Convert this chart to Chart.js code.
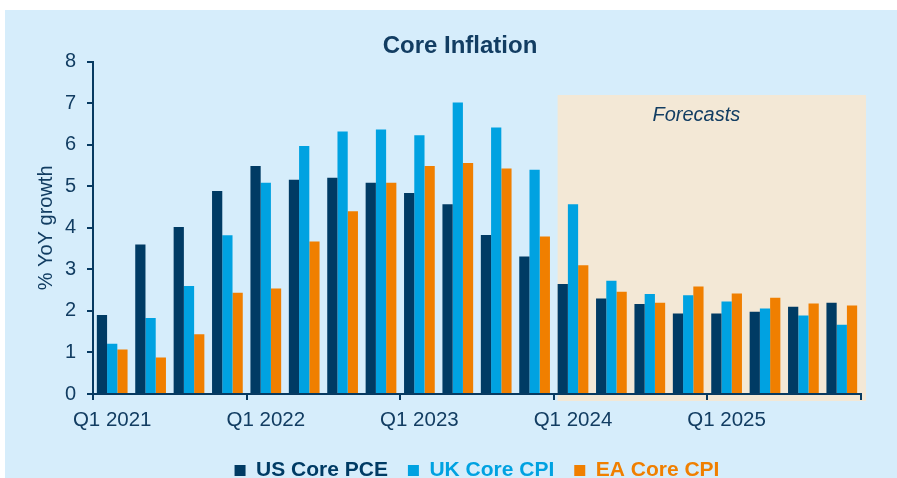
<!DOCTYPE html>
<html>
<head>
<meta charset="utf-8">
<script src="https://cdn.jsdelivr.net/npm/chart.js@4.4.1/dist/chart.umd.min.js"></script>
<style>
  body { margin: 0; background: #fff; }
  #wrap { position: absolute; left: 5px; top: 10px; width: 892px; height: 468px; background: #d6edfb; }
</style>
</head>
<body>
<div id="wrap"><canvas id="coreInflation" width="892" height="468"></canvas></div>
<script>
const quarters = ['Q1 2021', 'Q2 2021', 'Q3 2021', 'Q4 2021',
                  'Q1 2022', 'Q2 2022', 'Q3 2022', 'Q4 2022',
                  'Q1 2023', 'Q2 2023', 'Q3 2023', 'Q4 2023',
                  'Q1 2024', 'Q2 2024', 'Q3 2024', 'Q4 2024',
                  'Q1 2025', 'Q2 2025', 'Q3 2025', 'Q4 2025'];
const usCorePce = [1.9, 3.6, 4.02, 4.89, 5.49, 5.16, 5.21, 5.09, 4.84, 4.57, 3.83, 3.31, 2.65, 2.3, 2.17, 1.94, 1.94, 1.98, 2.1, 2.2];
const ukCoreCpi = [1.21, 1.83, 2.6, 3.82, 5.09, 5.97, 6.32, 6.37, 6.23, 7.02, 6.42, 5.4, 4.57, 2.73, 2.41, 2.38, 2.23, 2.06, 1.89, 1.67];
const eaCoreCpi = [1.07, 0.88, 1.44, 2.44, 2.54, 3.67, 4.4, 5.09, 5.49, 5.56, 5.43, 3.79, 3.1, 2.46, 2.2, 2.59, 2.42, 2.32, 2.18, 2.13];
const forecastStart = 12;   // Q1 2024
const forecastTop = 7.2;

const navy = '#073a61';
const textCol = '#123d62';

// shaded forecast area, drawn under everything
const forecastBox = {
  id: 'forecastBox',
  beforeDraw(chart) {
    const x = chart.scales.x, y = chart.scales.y, ctx = chart.ctx;
    const half = (x.getPixelForValue(1) - x.getPixelForValue(0)) * 0.8 / 2;
    const left = x.getPixelForValue(forecastStart) - half;
    const right = chart.chartArea.right + 5;
    const top = y.getPixelForValue(forecastTop);
    const bottom = chart.chartArea.bottom + 7;
    ctx.save();
    ctx.fillStyle = '#f3e8d6';
    ctx.fillRect(left, top, right - left, bottom - top);
    ctx.fillStyle = textCol;
    ctx.font = 'italic 20px "Liberation Sans", Arial, sans-serif';
    ctx.textAlign = 'center';
    ctx.textBaseline = 'middle';
    ctx.fillText('Forecasts', left + (right - left) * 0.45, top + 20);
    ctx.restore();
  }
};

const graph = document.getElementById('coreInflation');

new Chart(graph, {
  type: 'bar',
  data: {
    labels: quarters,
    datasets: [
      { label: 'US Core PCE', data: usCorePce, backgroundColor: '#003b64' },
      { label: 'UK Core CPI', data: ukCoreCpi, backgroundColor: '#00a2e1' },
      { label: 'EA Core CPI', data: eaCoreCpi, backgroundColor: '#f07f00' }
    ]
  },
  options: {
    responsive: false,
    animation: false,
    datasets: { bar: { categoryPercentage: 0.8, barPercentage: 1.0 } },
    layout: { padding: { left: 54, right: 36, top: 0, bottom: -13 } },
    font: { family: '"Liberation Sans", Arial, sans-serif' },
    plugins: {
      tooltip: { enabled: false },
      title: {
        display: true,
        text: 'Core Inflation',
        color: textCol,
        font: { size: 24, weight: 'bold' },
        padding: { top: 22, bottom: 1 }
      },
      legend: {
        position: 'bottom',
        fullSize: false,
        labels: {
          font: { size: 21, weight: 'bold' },
          boxWidth: 11,
          boxHeight: 11,
          padding: 20,
          generateLabels(chart) {
            return chart.data.datasets.map((ds, i) => ({
              text: ds.label,
              fillStyle: ds.backgroundColor,
              strokeStyle: ds.backgroundColor,
              fontColor: ds.backgroundColor,
              lineWidth: 0,
              datasetIndex: i
            }));
          }
        }
      }
    },
    scales: {
      x: {
        afterFit(scale) { scale.height = 46; },
        border: { color: navy, width: 2 },
        grid: {
          drawOnChartArea: false,
          drawTicks: true,
          tickLength: 6,
          lineWidth: 2,
          color: (c) => (c.index === undefined || c.index % 4 === 0) ? navy : 'rgba(0,0,0,0)'
        },
        ticks: {
          autoSkip: false,
          maxRotation: 0,
          padding: 8,
          color: textCol,
          font: { size: 20.5 },
          callback: (v, i) => i % 4 === 0 ? quarters[i] : ''
        }
      },
      y: {
        min: 0,
        max: 8,
        afterFit(scale) { scale.width = 34; },
        border: { color: navy, width: 2 },
        grid: {
          drawOnChartArea: false,
          drawTicks: true,
          tickLength: 6,
          lineWidth: 2,
          color: navy
        },
        ticks: {
          stepSize: 1,
          padding: 11,
          color: textCol,
          font: { size: 20 }
        },
        title: {
          display: true,
          text: '% YoY growth',
          color: textCol,
          font: { size: 20 },
          padding: { top: -25, bottom: 0 }
        }
      }
    }
  },
  plugins: [forecastBox]
});
</script>
</body>
</html>
